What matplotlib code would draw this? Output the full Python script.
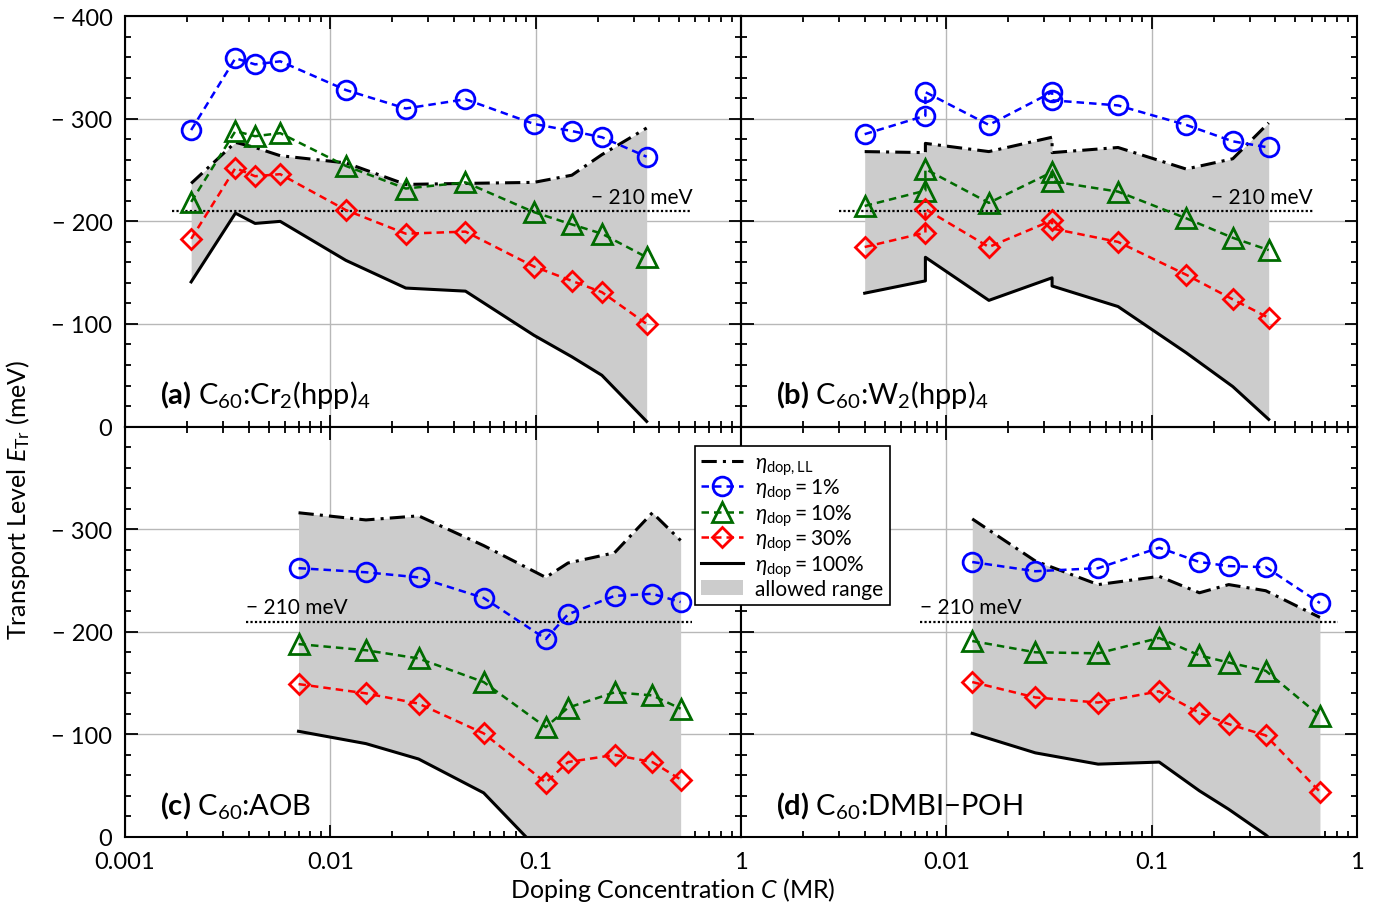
import numpy as np
import matplotlib.pyplot as plt
from matplotlib.patches import Patch
from matplotlib.ticker import LogLocator, MultipleLocator, NullFormatter

plt.rcParams['font.family'] = ['Lato', 'DejaVu Sans']
plt.rcParams['mathtext.fontset'] = 'custom'
plt.rcParams['mathtext.rm'] = 'Lato'
plt.rcParams['mathtext.it'] = 'Lato:italic'
plt.rcParams['mathtext.bf'] = 'Lato:bold'

# (a) C60:Cr2(hpp)4
c_a = [0.0021, 0.00345, 0.0043, 0.0057, 0.0119, 0.0233, 0.0455, 0.098, 0.150, 0.210, 0.347]
ll_a = [-237, -277, -272, -264, -257, -236, -237, -238, -245, -265, -291]
p1_a = [-289, -359, -353, -356, -328, -310, -319, -295, -288, -282, -263]
p10_a = [-219, -288, -283, -286, -254, -232, -238, -209, -197, -188, -165]
p30_a = [-183, -252, -244, -246, -211, -188, -190, -156, -142, -131, -100]
p100_a = [-141, -208, -198, -200, -162, -135, -132, -89, -68, -50, -5]

# (b) C60:W2(hpp)4
c_b = [0.0040, 0.0079, 0.0079, 0.0161, 0.0327, 0.0327, 0.0685, 0.147, 0.248, 0.371]
ll_b = [-268, -267, -276, -268, -282, -267, -272, -251, -261, -296]
p1_b = [-285, -303, -326, -294, -326, -318, -313, -294, -278, -272]
p10_b = [-215, -230, -251, -218, -248, -239, -229, -203, -184, -172]
p30_b = [-175, -189, -212, -175, -201, -193, -180, -148, -124, -106]
p100_b = [-130, -142, -165, -123, -145, -137, -117, -72, -39, -7]

# (c) C60:AOB
c_c = [0.0070, 0.0149, 0.0269, 0.0558, 0.112, 0.1436, 0.242, 0.370, 0.508]
ll_c = [-316, -309, -313, -284, -253, -267, -277, -316, -289]
p1_c = [-262, -258, -253, -233, -193, -217, -235, -237, -229]
p10_c = [-188, -182, -174, -151, -107, -126, -141, -138, -125]
p30_c = [-149, -140, -130, -101, -53, -73, -80, -73, -56]
p100_c = [-103, -91, -76, -43, 20, 2, 15, 35, 50]

# (d) C60:DMBI-POH
c_d = [0.01336, 0.0271, 0.0548, 0.1087, 0.1706, 0.237, 0.359, 0.659]
ll_d = [-310, -269, -246, -254, -238, -246, -240, -214]
p1_d = [-268, -259, -262, -282, -268, -264, -263, -228]
p10_d = [-191, -180, -179, -194, -177, -170, -162, -118]
p30_d = [-151, -136, -131, -142, -121, -110, -99, -44]
p100_d = [-101, -82, -71, -73, -45, -27, -2, 45]

# -210 meV reference line extents
ref_level = -210
ref_a = (0.0017, 0.58)
ref_b = (0.0030, 0.61)
ref_c = (0.0039, 0.58)
ref_d = (0.0074, 0.81)

titles = [r'$\mathbf{(a)}$ C$_{60}$:Cr$_{2}$(hpp)$_{4}$',
          r'$\mathbf{(b)}$ C$_{60}$:W$_{2}$(hpp)$_{4}$',
          r'$\mathbf{(c)}$ C$_{60}$:AOB',
          r'$\mathbf{(d)}$ C$_{60}$:DMBI$-$POH']

panels = [(c_a, ll_a, p1_a, p10_a, p30_a, p100_a, ref_a, 'right'),
          (c_b, ll_b, p1_b, p10_b, p30_b, p100_b, ref_b, 'right'),
          (c_c, ll_c, p1_c, p10_c, p30_c, p100_c, ref_c, 'left'),
          (c_d, ll_d, p1_d, p10_d, p30_d, p100_d, ref_d, 'left')]

fig, axes = plt.subplots(2, 2, figsize=(13.75, 9.03), dpi=100)
fig.subplots_adjust(left=0.0909, right=0.987, bottom=0.072, top=0.981, wspace=0, hspace=0)

for i, (ax, pan) in enumerate(zip(axes.flat, panels)):
    c, ll, p1, p10, p30, p100, ref, ha = pan
    ax.set_xscale('log')
    ax.set_axisbelow(True)
    ax.grid(True, which='major', color='#b8b8b8', lw=1.0)
    ax.fill_between(c, ll, p100, color='#cccccc', lw=0, zorder=1)
    ax.plot(ref, [ref_level, ref_level], color='black', ls=(0, (1, 1)), lw=1.6, zorder=2)
    if ha == 'right':
        ax.text(ref[1], ref_level - 4, '\u2212 210 meV', ha='right', va='bottom', fontsize=15, zorder=2)
    else:
        ax.text(ref[0], ref_level - 4, '\u2212 210 meV', ha='left', va='bottom', fontsize=15, zorder=2)
    ax.plot(c, ll, color='black', ls=(0, (5, 2, 1, 2)), lw=2.2, zorder=3, label=r'$\eta_{\rm dop,LL}$')
    ax.plot(c, p1, color='#0000ff', ls=(0, (3, 2)), lw=1.8, marker='o', ms=13.5, mfc='none', mew=2,
            zorder=4, label=r'$\eta_{\rm dop}=1\%$')
    ax.plot(c, p10, color='#006b00', ls=(0, (3, 2)), lw=1.8, marker='^', ms=14, mfc='none', mew=2,
            zorder=4, label=r'$\eta_{\rm dop}=10\%$')
    ax.plot(c, p30, color='#ff0000', ls=(0, (3, 2)), lw=1.8, marker='D', ms=10.5, mfc='none', mew=2,
            zorder=4, label=r'$\eta_{\rm dop}=30\%$')
    ax.plot(c, p100, color='black', ls='-', lw=2.2, zorder=3, label=r'$\eta_{\rm dop}=100\%$')
    ax.text(0.057, 0.04, titles[i], transform=ax.transAxes, fontsize=21, ha='left', va='bottom')

    ax.set_xlim(0.001, 1)
    ax.set_ylim(0, -400)
    ax.yaxis.set_major_locator(MultipleLocator(100))
    ax.yaxis.set_minor_locator(MultipleLocator(20))
    ax.xaxis.set_minor_locator(LogLocator(base=10, subs=np.arange(2, 10)))
    ax.xaxis.set_minor_formatter(NullFormatter())
    ax.tick_params(which='both', direction='in', top=True, right=True, labelsize=17, width=1.3)
    ax.tick_params(which='major', length=9)
    ax.tick_params(which='minor', length=4.5)
    ax.tick_params(axis='y', pad=9)
    ax.tick_params(axis='x', pad=10)
    for s in ax.spines.values():
        s.set_linewidth(1.5)

    col = i % 2
    row = i // 2
    if col == 0:
        if row == 0:
            yt = [-400, -300, -200, -100, 0]
        else:
            yt = [-300, -200, -100, 0]
        ax.set_yticks(yt)
        ax.set_yticklabels(['0' if v == 0 else '\u2212 %d' % (-v) for v in yt])
    else:
        ax.set_yticklabels([])
    if row == 1:
        if col == 0:
            xt = [0.001, 0.01, 0.1, 1]
            xl = ['0.001', '0.01', '0.1', '1']
        else:
            xt = [0.01, 0.1, 1]
            xl = ['0.01', '0.1', '1']
        ax.set_xticks(xt)
        ax.set_xticklabels(xl)
    else:
        ax.set_xticklabels([])
    ax.set_xlim(0.001, 1)
    ax.set_ylim(0, -400)

handles, labels = axes[0, 0].get_legend_handles_labels()
handles.append(Patch(facecolor='#cccccc', edgecolor='none'))
labels.append('allowed range')
leg = fig.legend(handles, labels, loc='upper left', bbox_to_anchor=(695 / 1375, 1 - 447 / 903),
                 fontsize=15, frameon=True, fancybox=False, edgecolor='black', framealpha=1,
                 labelspacing=0.0, handlelength=2.0, handletextpad=0.6, borderpad=0.3,
                 borderaxespad=0)
leg.get_frame().set_linewidth(1.2)

fig.text(0.013, 0.447, r'Transport Level $E_{\rm Tr}$ (meV)', rotation=90, ha='center', va='center', fontsize=18)
fig.text(0.489, 0.014, r'Doping Concentration $C$ (MR)', ha='center', va='center', fontsize=18)

fig.savefig('out.png', dpi=100)
